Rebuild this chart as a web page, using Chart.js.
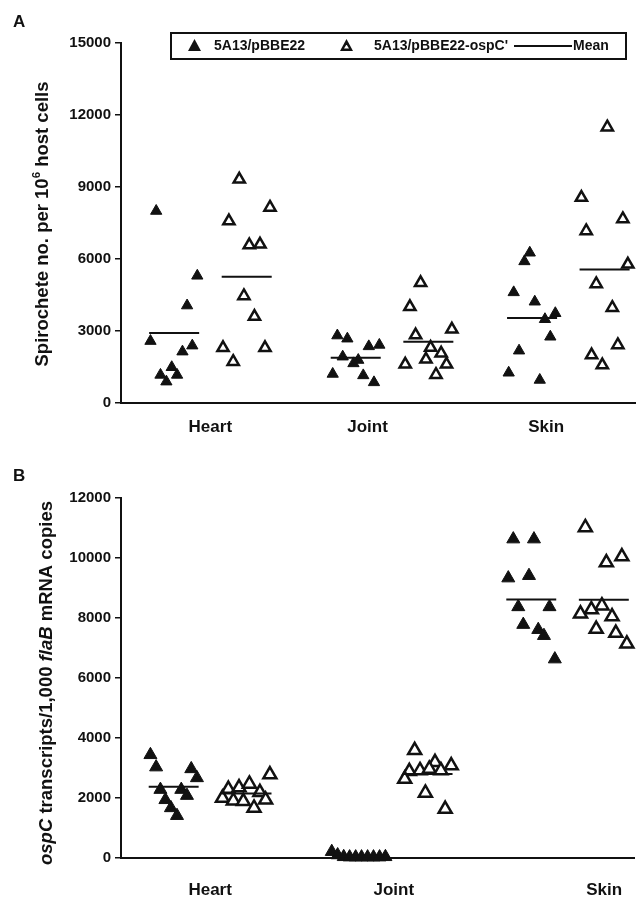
<!DOCTYPE html>
<html>
<head>
<meta charset="utf-8">
<script src="https://cdn.jsdelivr.net/npm/chart.js@4.4.1/dist/chart.umd.min.js"></script>
<style>
  body { margin: 0; background: #fff; font-family: "Liberation Sans", Arial, sans-serif; }
  #wrap { position: relative; width: 644px; height: 897px; overflow: hidden; }
  canvas { position: absolute; left: 0; }
  #chartA { top: 0; }
  #chartB { top: 450px; }
  .panel { position: absolute; left: 13px; font-weight: bold; font-size: 17px; color: #111; }
  #legend { position: absolute; left: 170px; top: 32px; width: 453px; height: 24px; border: 2px solid #111;
            font-weight: bold; font-size: 14px; color: #111; }
  #legend .txt { position: absolute; top: 3px; white-space: nowrap; }
  .tri { position: absolute; top: 5px; width: 13px; height: 12px; background: #111;
         clip-path: polygon(50% 0, 100% 100%, 0 100%); }
  .tri.open::after { content: ""; position: absolute; left: 4px; top: 5.5px; width: 5px; height: 4px;
         background: #fff; clip-path: polygon(50% 0, 100% 100%, 0 100%); }
  .mline { position: absolute; top: 11px; width: 58px; border-top: 2px solid #111; }
</style>
</head>
<body>
<div id="wrap">
  <canvas id="chartA" width="644" height="450"></canvas>
  <canvas id="chartB" width="644" height="447"></canvas>
  <div class="panel" style="top:12px">A</div>
  <div class="panel" style="top:466px">B</div>
  <div id="legend">
    <div class="tri" style="left:16px"></div>
    <span class="txt" style="left:42px">5A13/pBBE22</span>
    <div class="tri open" style="left:168px"></div>
    <span class="txt" style="left:202px">5A13/pBBE22-ospC'</span>
    <div class="mline" style="left:342px"></div>
    <span class="txt" style="left:401px">Mean</span>
  </div>
</div>
<script>
const categories = ["Heart", "Joint", "Skin"];
const seriesNames = ["5A13/pBBE22", "5A13/pBBE22-ospC'"];

// panel A: spirochete no. per 10^6 host cells (one sub-array per category)
const aFilledY = [
  [8000, 2580, 5300, 4060, 2390, 2140, 1490, 1170, 1170, 890],
  [2810, 2680, 2360, 2420, 1930, 1650, 1790, 1210, 1150, 860],
  [6260, 5900, 4610, 4220, 3740, 3490, 2760, 2180, 1260, 960]
];
const aFilledX = [
  [0.697, 0.665, 0.927, 0.870, 0.899, 0.844, 0.784, 0.721, 0.814, 0.754],
  [1.711, 1.767, 1.887, 1.946, 1.741, 1.801, 1.828, 1.685, 1.856, 1.916],
  [2.788, 2.758, 2.698, 2.816, 2.931, 2.873, 2.903, 2.728, 2.670, 2.844]
];
const aOpenY = [
  [9320, 7580, 8150, 6580, 6610, 4460, 3600, 2300, 2300, 1720],
  [5010, 4010, 3070, 2830, 2310, 2070, 1820, 1610, 1610, 1180],
  [11490, 8560, 7670, 7170, 5780, 4960, 3970, 2420, 2000, 1580]
];
const aOpenX = [
  [1.162, 1.104, 1.334, 1.218, 1.278, 1.188, 1.247, 1.071, 1.306, 1.128],
  [2.177, 2.117, 2.352, 2.149, 2.233, 2.292, 2.207, 2.322, 2.091, 2.263],
  [3.222, 3.077, 3.309, 3.104, 3.337, 3.160, 3.250, 3.281, 3.134, 3.194]
];
const aTicksY = [0, 3000, 6000, 9000, 12000, 15000];
const aCatPos = [1.0, 1.88, 2.88];

// panel B: ospC transcripts per 1,000 flaB mRNA copies
const bFilledY = [
  [3440, 3030, 2970, 2670, 2280, 2280, 2080, 1940, 1670, 1410],
  [210, 100, 40, 30, 30, 30, 30, 30, 30, 40],
  [10630, 10630, 9330, 9410, 8370, 8370, 7780, 7610, 7410, 6630]
];
const bFilledX = [
  [0.665, 0.697, 0.894, 0.926, 0.721, 0.838, 0.870, 0.749, 0.780, 0.814],
  [1.682, 1.715, 1.749, 1.782, 1.816, 1.849, 1.883, 1.916, 1.950, 1.983],
  [2.700, 2.816, 2.672, 2.788, 2.728, 2.903, 2.756, 2.840, 2.872, 2.933]
];
const bOpenY = [
  [2780, 2300, 2350, 2470, 2190, 2000, 1910, 1890, 1940, 1670],
  [3590, 3190, 3080, 2890, 2920, 2970, 2920, 2630, 2170, 1630],
  [11020, 10050, 9850, 8410, 8280, 8140, 8050, 7630, 7500, 7140]
];
const bOpenX = [
  [1.335, 1.102, 1.162, 1.220, 1.279, 1.069, 1.130, 1.186, 1.311, 1.246],
  [2.147, 2.261, 2.352, 2.117, 2.177, 2.229, 2.294, 2.091, 2.207, 2.318],
  [3.104, 3.309, 3.222, 3.197, 3.138, 3.077, 3.254, 3.165, 3.275, 3.337]
];
const bTicksY = [0, 2000, 4000, 6000, 8000, 10000, 12000];
const bCatPos = [1.0, 2.03, 3.21];

const FONT = "'Liberation Sans', Arial, sans-serif";
const INK = "#111";

function avg(arr) {
  return arr.reduce((s, v) => s + v, 0) / arr.length;
}

function toPoints(xs, ys) {
  const pts = [];
  ys.forEach((grp, g) => grp.forEach((v, i) => pts.push({ x: xs[g][i], y: v })));
  return pts;
}

// mean bars, centred on each group, with gaps between them
function meanSegments(sets, half) {
  const pts = [];
  sets.forEach(([xs, ys]) => {
    xs.forEach((gx, g) => {
      const cx = avg(gx);
      const m = avg(ys[g]);
      pts.push({ x: cx - half, y: m }, { x: cx + half, y: m }, { x: cx + half + 0.01, y: null });
    });
  });
  return pts;
}

// rotated y axis title with mixed styles
const yTitle = {
  id: "yTitle",
  afterDraw(chart, args, opts) {
    const ctx = chart.ctx;
    const area = chart.chartArea;
    const parts = opts.parts.map(p => {
      const size = p.sup ? opts.size * 0.62 : opts.size;
      const font = (p.italic ? "italic " : "") + "bold " + size + "px " + FONT;
      ctx.font = font;
      return { text: p.text, font, sup: p.sup, w: ctx.measureText(p.text).width };
    });
    const total = parts.reduce((s, p) => s + p.w, 0);
    ctx.save();
    ctx.translate(opts.x, (area.top + area.bottom) / 2 + opts.shift);
    ctx.rotate(-Math.PI / 2);
    ctx.fillStyle = INK;
    ctx.textBaseline = "middle";
    ctx.textAlign = "left";
    let pos = -total / 2;
    parts.forEach(p => {
      ctx.font = p.font;
      ctx.fillText(p.text, pos, p.sup ? -opts.size * 0.32 : 0);
      pos += p.w;
    });
    ctx.restore();
  }
};

function makePanel(id, cfg) {
  return new Chart(document.getElementById(id), {
    type: "scatter",
    data: {
      datasets: [
        {
          label: "Mean",
          data: meanSegments([[cfg.filledX, cfg.filledY], [cfg.openX, cfg.openY]], 0.14),
          showLine: true,
          spanGaps: false,
          borderColor: INK,
          borderWidth: 2,
          pointRadius: 0,
          clip: false
        },
        {
          label: seriesNames[0],
          data: toPoints(cfg.filledX, cfg.filledY),
          pointStyle: "triangle",
          pointRadius: cfg.radius,
          backgroundColor: INK,
          borderColor: INK,
          borderWidth: 1,
          clip: false
        },
        {
          label: seriesNames[1],
          data: toPoints(cfg.openX, cfg.openY),
          pointStyle: "triangle",
          pointRadius: cfg.radius,
          backgroundColor: "#fff",
          borderColor: INK,
          borderWidth: 2.5,
          clip: false
        }
      ]
    },
    options: {
      responsive: false,
      animation: false,
      devicePixelRatio: 1,
      layout: { padding: { top: cfg.top, right: 0, bottom: 0, left: 0 } },
      plugins: {
        legend: { display: false },
        tooltip: { enabled: false },
        yTitle: { x: cfg.titleX, size: 18.5, shift: cfg.titleShift, parts: cfg.title }
      },
      scales: {
        x: {
          type: "linear",
          min: 0.5,
          max: 3.377,
          afterBuildTicks: s => { s.ticks = cfg.catPos.map(v => ({ value: v })); },
          afterFit: s => {
            s.height = cfg.xHeight;
            s.paddingLeft = 0;
            s.paddingRight = 0;
          },
          ticks: {
            callback: (v, i) => categories[i],
            autoSkip: false,
            maxRotation: 0,
            padding: cfg.catPad,
            color: INK,
            font: { family: FONT, size: 17, weight: "bold" }
          },
          grid: { display: false, drawTicks: false },
          border: { color: INK, width: 2 }
        },
        y: {
          min: 0,
          max: cfg.ticksY[cfg.ticksY.length - 1],
          afterBuildTicks: s => { s.ticks = cfg.ticksY.map(v => ({ value: v })); },
          afterFit: s => { s.width = 121; },
          ticks: {
            callback: v => String(v),
            padding: 4,
            color: INK,
            font: { family: FONT, size: 15, weight: "bold" }
          },
          grid: { drawOnChartArea: false, drawTicks: true, tickLength: 6, color: INK, lineWidth: 1.5 },
          border: { color: INK, width: 2 }
        }
      }
    },
    plugins: [yTitle]
  });
}

makePanel("chartA", {
  filledX: aFilledX, filledY: aFilledY, openX: aOpenX, openY: aOpenY,
  ticksY: aTicksY, catPos: aCatPos,
  radius: 6.5, top: 43, xHeight: 47, catPad: 14,
  titleX: 43, titleShift: 1,
  title: [{ text: "Spirochete no. per 10" }, { text: "6", sup: true }, { text: " host cells" }]
});

makePanel("chartB", {
  filledX: bFilledX, filledY: bFilledY, openX: bOpenX, openY: bOpenY,
  ticksY: bTicksY, catPos: bCatPos,
  radius: 7.5, top: 48, xHeight: 39, catPad: 22,
  titleX: 47, titleShift: 5,
  title: [{ text: "ospC", italic: true }, { text: " transcripts/1,000 " }, { text: "flaB", italic: true }, { text: " mRNA copies" }]
});
</script>
</body>
</html>
